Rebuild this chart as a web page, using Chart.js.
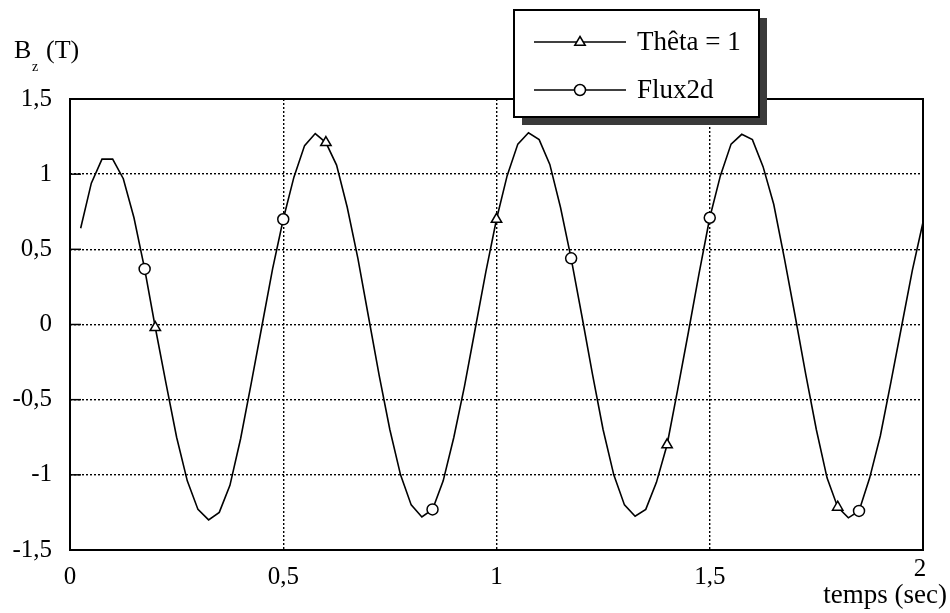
<!DOCTYPE html>
<html>
<head>
<meta charset="utf-8">
<script src="https://cdn.jsdelivr.net/npm/chart.js@4.4.0/dist/chart.umd.min.js"></script>
<style>
  html, body { margin: 0; padding: 0; background: #fff; }
  #c { display: block; }
</style>
</head>
<body>
<canvas id="c" width="950" height="613"></canvas>
<script>
// time samples (sec) of the computed curve
const temps = [
  0.025, 0.05, 0.075, 0.1, 0.125, 0.15, 0.175, 0.2, 0.225, 0.25,
  0.275, 0.3, 0.325, 0.35, 0.375, 0.4, 0.425, 0.45, 0.475, 0.5,
  0.525, 0.55, 0.575, 0.6, 0.625, 0.65, 0.675, 0.7, 0.725, 0.75,
  0.775, 0.8, 0.825, 0.85, 0.875, 0.9, 0.925, 0.95, 0.975, 1.0,
  1.025, 1.05, 1.075, 1.1, 1.125, 1.15, 1.175, 1.2, 1.225, 1.25,
  1.275, 1.3, 1.325, 1.35, 1.375, 1.4, 1.425, 1.45, 1.475, 1.5,
  1.525, 1.55, 1.575, 1.6, 1.625, 1.65, 1.675, 1.7, 1.725, 1.75,
  1.775, 1.8, 1.825, 1.85, 1.875, 1.9, 1.925, 1.95, 1.975, 2.0
];
// Bz (T)
const bz = [
  0.64, 0.94, 1.10, 1.10, 0.97, 0.71, 0.37, -0.02, -0.39, -0.75,
  -1.04, -1.23, -1.30, -1.25, -1.07, -0.76, -0.39, -0.01, 0.37, 0.70,
  0.98, 1.19, 1.27, 1.21, 1.06, 0.78, 0.44, 0.05, -0.34, -0.70,
  -1.00, -1.20, -1.28, -1.23, -1.04, -0.75, -0.41, -0.03, 0.35, 0.70,
  0.99, 1.20, 1.275, 1.23, 1.065, 0.78, 0.44, 0.06, -0.33, -0.70,
  -1.00, -1.20, -1.275, -1.23, -1.05, -0.80, -0.43, -0.05, 0.34, 0.71,
  0.99, 1.20, 1.265, 1.23, 1.05, 0.80, 0.44, 0.06, -0.33, -0.70,
  -1.02, -1.215, -1.286, -1.24, -1.02, -0.74, -0.38, -0.01, 0.36, 0.68
];

// marker points of the two series
const thetaT = [0.2, 0.6, 1.0, 1.4, 1.8];
const thetaB = [-0.02, 1.21, 0.70, -0.80, -1.215];
const fluxT = [0.175, 0.5, 0.85, 1.175, 1.5, 1.85];
const fluxB = [0.37, 0.70, -1.23, 0.44, 0.71, -1.24];

const yTicks = [-1.5, -1, -0.5, 0, 0.5, 1, 1.5];
const serif = "'Liberation Serif', 'Times New Roman', serif";

const comma = v => String(v).replace('.', ',');

function drawMarker(ctx, style, x, y, r) {
  ctx.beginPath();
  if (style === 'triangle') {
    ctx.moveTo(x, y - r);
    ctx.lineTo(x + r * 0.95, y + r * 0.6);
    ctx.lineTo(x - r * 0.95, y + r * 0.6);
    ctx.closePath();
  } else {
    ctx.arc(x, y, r, 0, Math.PI * 2);
  }
  ctx.fillStyle = '#fff';
  ctx.fill();
  ctx.stroke();
}

const decor = {
  id: 'decor',
  afterDraw(chart) {
    const { ctx, chartArea: a, scales: { x, y } } = chart;
    ctx.save();

    // plot frame
    ctx.strokeStyle = '#000';
    ctx.lineWidth = 2;
    ctx.strokeRect(a.left, a.top, a.right - a.left, a.bottom - a.top);

    // short solid ticks on the left axis
    ctx.lineWidth = 1.5;
    yTicks.forEach(v => {
      const py = y.getPixelForValue(v);
      ctx.beginPath();
      ctx.moveTo(a.left, py);
      ctx.lineTo(a.left + 11, py);
      ctx.stroke();
    });

    // axis titles
    ctx.fillStyle = '#000';
    ctx.textBaseline = 'alphabetic';
    ctx.textAlign = 'left';
    ctx.font = '26px ' + serif;
    ctx.fillText('B', 14, 58);
    ctx.fillText('(T)', 46, 58);
    ctx.font = '14px ' + serif;
    ctx.fillText('z', 32, 71);

    ctx.font = '25px ' + serif;
    ctx.textAlign = 'center';
    ctx.fillText('2', x.getPixelForValue(2) - 3, 576);
    ctx.font = '27px ' + serif;
    ctx.textAlign = 'right';
    ctx.fillText('temps (sec)', 947, 603);

    // legend box with shadow
    const bx = 514, by = 10, bw = 245, bh = 107;
    ctx.fillStyle = '#3a3a3a';
    ctx.fillRect(bx + 8, by + 8, bw, bh);
    ctx.fillStyle = '#fff';
    ctx.fillRect(bx, by, bw, bh);
    ctx.lineWidth = 2;
    ctx.strokeStyle = '#000';
    ctx.strokeRect(bx, by, bw, bh);

    const items = [chart.data.datasets[1], chart.data.datasets[2]];
    items.forEach((ds, i) => {
      const ly = 42 + i * 48;
      ctx.lineWidth = 1.5;
      ctx.beginPath();
      ctx.moveTo(534, ly);
      ctx.lineTo(626, ly);
      ctx.stroke();
      drawMarker(ctx, ds.pointStyle, 580, ly, 5.5);
      ctx.fillStyle = '#000';
      ctx.font = '27px ' + serif;
      ctx.textAlign = 'left';
      ctx.textBaseline = 'middle';
      ctx.fillText(ds.label, 637, ly + 1);
    });
    ctx.restore();
  }
};

new Chart(document.getElementById('c'), {
  type: 'scatter',
  data: {
    datasets: [
      {
        label: 'courbe',
        data: temps.map((t, i) => ({ x: t, y: bz[i] })),
        showLine: true,
        borderColor: '#000',
        borderWidth: 1.6,
        pointRadius: 0,
        tension: 0,
        order: 2
      },
      {
        label: 'Thêta = 1',
        data: thetaT.map((t, i) => ({ x: t, y: thetaB[i] })),
        pointStyle: 'triangle',
        pointRadius: 6,
        pointBorderWidth: 1.5,
        borderColor: '#000',
        backgroundColor: '#fff',
        order: 1
      },
      {
        label: 'Flux2d',
        data: fluxT.map((t, i) => ({ x: t, y: fluxB[i] })),
        pointStyle: 'circle',
        pointRadius: 5.5,
        pointBorderWidth: 1.5,
        borderColor: '#000',
        backgroundColor: '#fff',
        order: 1
      }
    ]
  },
  options: {
    responsive: false,
    maintainAspectRatio: false,
    animation: false,
    layout: { padding: { top: 99, right: 27, left: 0, bottom: 0 } },
    plugins: { legend: { display: false }, tooltip: { enabled: false } },
    scales: {
      x: {
        type: 'linear',
        min: 0,
        max: 2,
        afterFit: s => { s.height = 63; },
        ticks: {
          stepSize: 0.5,
          padding: 12,
          color: '#000',
          font: { family: serif, size: 25 },
          callback: v => (v === 2 ? '' : comma(v))
        },
        grid: {
          drawTicks: false,
          color: c => (c.tick && (c.tick.value === 0 || c.tick.value === 2) ? 'rgba(0,0,0,0)' : '#000'),
          lineWidth: 1.4
        },
        border: { display: false, dash: [2, 2] }
      },
      y: {
        min: -1.5,
        max: 1.5,
        afterFit: s => { s.width = 70; },
        ticks: {
          stepSize: 0.5,
          padding: 18,
          color: '#000',
          font: { family: serif, size: 25 },
          callback: v => comma(v)
        },
        grid: {
          drawTicks: false,
          color: c => (c.tick && (c.tick.value === -1.5 || c.tick.value === 1.5) ? 'rgba(0,0,0,0)' : '#000'),
          lineWidth: 1.4
        },
        border: { display: false, dash: [2, 2] }
      }
    }
  },
  plugins: [decor]
});
</script>
</body>
</html>
